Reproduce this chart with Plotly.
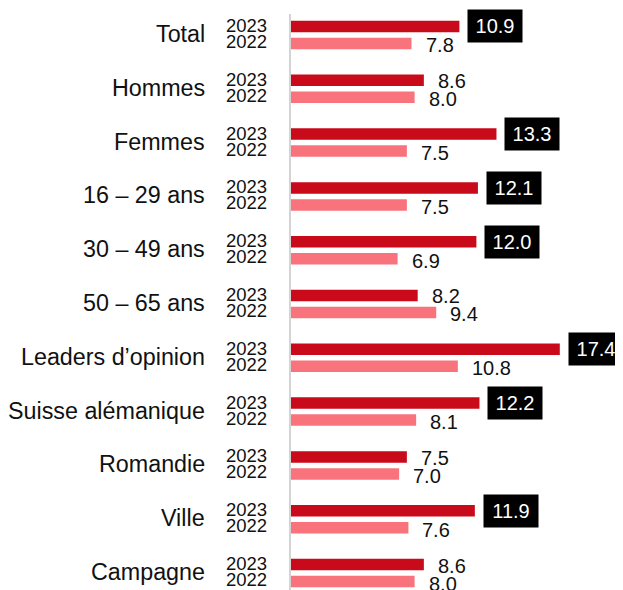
import plotly.graph_objects as go

categories = ["Total", "Hommes", "Femmes", "16 – 29 ans", "30 – 49 ans", "50 – 65 ans",
              "Leaders d’opinion", "Suisse alémanique", "Romandie", "Ville", "Campagne"]
values_2023 = [10.9, 8.6, 13.3, 12.1, 12.0, 8.2, 17.4, 12.2, 7.5, 11.9, 8.6]
values_2022 = [7.8, 8.0, 7.5, 7.5, 6.9, 9.4, 10.8, 8.1, 7.0, 7.6, 8.0]
highlight_2023 = [True, False, True, True, True, False, True, True, False, True, False]
year_labels = ["2023", "2022"]

DARK = "#C90A1A"
LIGHT = "#F8737C"
FONT = "Liberation Sans, Arial, Helvetica, sans-serif"

OFF = 0.158
BW = 0.214
idx = list(range(len(categories)))
y23 = [i - OFF for i in idx]
y22 = [i + OFF for i in idx]

fig = go.Figure()
fig.add_trace(go.Bar(y=y23, x=values_2023, orientation="h", width=BW,
                     marker=dict(color=DARK, line=dict(width=0)), name=year_labels[0],
                     hoverinfo="x"))
fig.add_trace(go.Bar(y=y22, x=values_2022, orientation="h", width=BW,
                     marker=dict(color=LIGHT, line=dict(width=0)), name=year_labels[1],
                     hoverinfo="x"))

PLOT_W = 332.0
CAT_X = (207 - 291) / PLOT_W
YEAR_X = (269 - 291) / PLOT_W

ann = []
for i, cat in enumerate(categories):
    ann.append(dict(x=CAT_X, y=i, xref="paper", yref="y", text=cat, showarrow=False,
                    xanchor="right", yanchor="middle", yshift=1,
                    font=dict(family=FONT, size=23.3, color="#111111")))
    ann.append(dict(x=YEAR_X, y=y23[i], xref="paper", yref="y", text=year_labels[0], showarrow=False,
                    xanchor="right", yanchor="middle", yshift=1,
                    font=dict(family=FONT, size=18.5, color="#111111")))
    ann.append(dict(x=YEAR_X, y=y22[i], xref="paper", yref="y", text=year_labels[1], showarrow=False,
                    xanchor="right", yanchor="middle", yshift=2,
                    font=dict(family=FONT, size=18.5, color="#111111")))
    v = values_2023[i]
    if highlight_2023[i]:
        ann.append(dict(x=v, y=y23[i], xref="x", yref="y", text=f"{v:.1f}", showarrow=False,
                        xanchor="left", yanchor="middle", xshift=8,
                        width=54, height=32, bgcolor="#000000", borderpad=0,
                        align="center", valign="middle",
                        font=dict(family=FONT, size=20, color="#FFFFFF")))
    else:
        ann.append(dict(x=v, y=y23[i], xref="x", yref="y", text=f"{v:.1f}", showarrow=False,
                        xanchor="left", yanchor="middle", xshift=12, yshift=-1,
                        font=dict(family=FONT, size=20, color="#111111")))
    w = values_2022[i]
    ann.append(dict(x=w, y=y22[i], xref="x", yref="y", text=f"{w:.1f}", showarrow=False,
                    xanchor="left", yanchor="middle", xshift=12, yshift=-2,
                    font=dict(family=FONT, size=20, color="#111111")))

fig.update_layout(
    width=615, height=582,
    margin=dict(l=283, r=0, t=6, b=0),
    plot_bgcolor="white", paper_bgcolor="white",
    showlegend=False, barmode="overlay",
    annotations=ann,
    xaxis=dict(range=[0, 21.49], showgrid=False, zeroline=False, showticklabels=False,
               ticks="", showline=False, fixedrange=True),
    yaxis=dict(range=[10.316, -0.390], showgrid=False, zeroline=False, showticklabels=False,
               ticks="", showline=True, linecolor="#D4D4D4", linewidth=2, mirror=False,
               fixedrange=True),
)

fig.write_html("out.html")
